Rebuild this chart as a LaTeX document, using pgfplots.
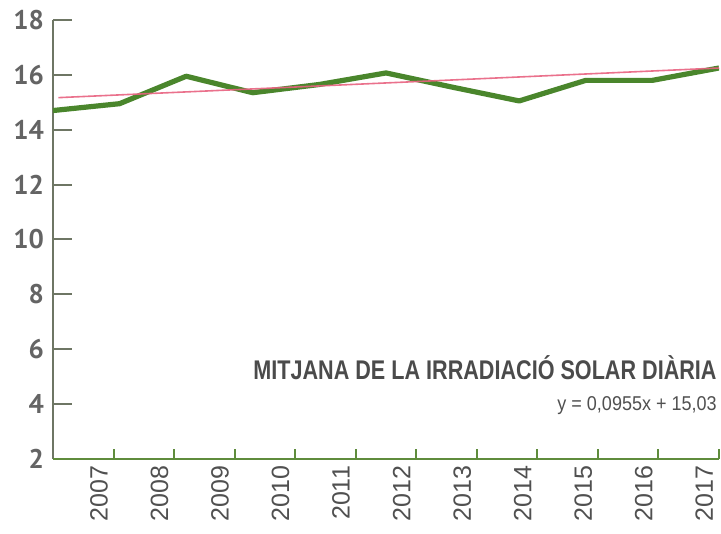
\documentclass[border=0pt]{standalone}
\usepackage{fontspec}
\setmainfont{Liberation Sans}
\newfontfamily\numfont{PT Sans}
\newfontfamily\condfont[FakeStretch=0.8]{Liberation Sans}
\newfontfamily\eqfont[FakeStretch=0.9]{Liberation Sans}
\usepackage{pgfplots}
\pgfplotsset{compat=1.18}

\definecolor{linegreen}{RGB}{74,134,44}
\definecolor{trendpink}{RGB}{232,98,128}
\definecolor{yaxcol}{RGB}{110,118,100}
\definecolor{xaxcol}{RGB}{95,140,60}
\definecolor{labgray}{RGB}{80,80,80}
\definecolor{numgray}{RGB}{100,100,100}
\definecolor{titlegray}{RGB}{75,75,75}

\begin{document}
\begin{tikzpicture}
% main axis: y axis, labels and data
\begin{axis}[
    name=main,
    scale only axis, width=333pt, height=219.5pt,
    xmin=0, xmax=10, ymin=2, ymax=18,
    axis lines=left, axis line style={-},
    x axis line style={draw=none},
    y axis line style={yaxcol, line width=1pt},
    tick align=inside, major tick length=9.5pt,
    ytick={2,4,...,18},
    ytick style={yaxcol, line width=1pt},
    xtick={0.525,1.434,2.343,3.252,4.161,5.07,5.979,6.888,7.797,8.706,9.615},
    xticklabels={2007,2008,2009,2010,2011,2012,2013,2014,2015,2016,2017},
    xtick style={draw=none},
    xticklabel style={rotate=90, anchor=east, yshift=-5.5pt,
        font=\fontsize{12.5}{13}\selectfont, text=labgray},
    yticklabel style={font=\numfont\bfseries\fontsize{13.5}{14}\selectfont,
        text=numgray, xshift=-1pt},
    /pgf/number format/assume math mode=true,
]
\addplot[linegreen, line width=2.6pt, line join=round]
  coordinates {(0,14.7)(1,14.95)(2,15.95)(3,15.35)(4,15.65)(5,16.07)
               (6,15.55)(7,15.05)(8,15.8)(9,15.8)(10,16.25)};
\addplot[trendpink, line width=0.8pt, opacity=0.9]
  coordinates {(0.08,15.17)(10,16.25)};
\node[anchor=base east, inner sep=0, text=titlegray,
      font=\condfont\bfseries\fontsize{13.5}{14}\selectfont]
  at (axis cs:9.97,4.88) {MITJANA DE LA IRRADIACIÓ SOLAR DIÀRIA};
\node[anchor=base east, inner sep=0, text=labgray,
      font=\eqfont\fontsize{10}{11}\selectfont]
  at (axis cs:9.97,3.77) {y = 0,0955x + 15,03};
\end{axis}
% second axis: x axis line and its short tick marks
\begin{axis}[
    scale only axis, width=333pt, height=219.5pt,
    xmin=0, xmax=10, ymin=2, ymax=18,
    axis lines=left, axis line style={-},
    hide y axis,
    x axis line style={xaxcol, line width=1pt},
    tick align=inside, major tick length=5pt,
    xtick={0.90909,1.81818,2.72727,3.63636,4.54545,5.45455,6.36364,7.27273,8.18182,9.09091,10},
    xticklabels={},
    xtick style={xaxcol, line width=1pt},
]
\addplot[draw=none] coordinates {(0,2)};
\end{axis}
\pgfresetboundingbox
\path ([shift={(-26.5pt,-37.5pt)}]main.south west) rectangle ([shift={(1pt,10pt)}]main.north east);
\end{tikzpicture}
\end{document}
